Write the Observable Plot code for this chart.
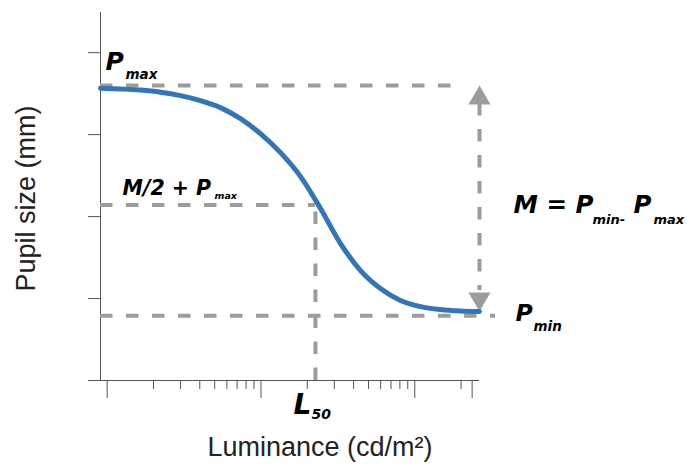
<!DOCTYPE html>
<html>
<head>
<meta charset="utf-8">
<script src="https://cdn.jsdelivr.net/npm/d3@7"></script>
<script src="https://cdn.jsdelivr.net/npm/@observablehq/plot@0.6"></script>
<style>
  html, body { margin: 0; padding: 0; background: #fff; }
  svg { display: block; }
</style>
</head>
<body>
<div id="chart"></div>
<script>
// Curve (luminance in cd/m², pupil size in mm units of the drawing)
const luminance = [0.905, 1.22, 1.65, 2.22, 3.0, 4.04, 5.45, 7.36, 9.92, 13.4, 18.1, 24.4, 32.9, 44.4, 59.8, 80.7, 109, 147, 198, 263.5];
const pupilSize = [3.567, 3.557, 3.543, 3.518, 3.476, 3.415, 3.329, 3.195, 3.012, 2.780, 2.488, 2.098, 1.671, 1.341, 1.122, 0.976, 0.902, 0.866, 0.848, 0.841];

// Reference levels
const Pmax = 3.6;
const Pmin = 0.79;
const halfLevel = 2.14;   // M/2 + Pmax
const L50 = 22.6;

// Axis ticks
const xMajorTicks = [1, 10, 100, 236];
const xMinorTicks = [2, 3, 4, 5, 6, 7, 8, 9, 20, 30, 40, 50, 60, 70, 80, 90, 200];
const yTicks = [0, 1, 2, 3, 4];
const xDomain = [0.905, 263.5];
const yDomain = [0, 4.49];

// Labels
const xLabel = "Luminance (cd/m²)";
const yLabel = "Pupil size (mm)";

const curve = luminance.map((L, i) => ({L, P: pupilSize[i]}));
const xStart = xDomain[0], xEnd = xDomain[1];
const pEnd = pupilSize[pupilSize.length - 1];

const gray = "#9c9c9c";
const dash = "12.5,13.5";
const axisColor = "#555";
const mathFont = "'DejaVu Sans', sans-serif";
const bi = {fontFamily: mathFont, fontWeight: "bold", fontStyle: "italic", fill: "#000", textAnchor: "start", lineAnchor: "bottom"};

function label(x, y, text, size, dx, dy) {
  return Plot.text([{x, y}], {x: "x", y: "y", text: () => text, fontSize: size, dx, dy, ...bi});
}

const midM = (Pmax + Pmin) / 2;

const chart = Plot.plot({
  width: 687,
  height: 468,
  marginLeft: 100,
  marginRight: 208,
  marginTop: 12,
  marginBottom: 88,
  style: {fontFamily: "'Liberation Sans', Arial, sans-serif", background: "#fff"},
  x: {type: "log", domain: xDomain, axis: null},
  y: {domain: yDomain, axis: null},
  marks: [
    // axes
    Plot.ruleX([xStart], {y1: yDomain[0], y2: yDomain[1], stroke: axisColor, strokeWidth: 1}),
    Plot.ruleY([0], {x1: xStart, x2: xEnd, stroke: axisColor, strokeWidth: 1}),
    Plot.axisY({ticks: yTicks, tickSize: 12, tickFormat: () => "", label: null, stroke: axisColor}),
    Plot.axisX({ticks: xMajorTicks, tickSize: 18, tickFormat: () => "", label: null, stroke: axisColor}),
    Plot.axisX({ticks: xMinorTicks, tickSize: 9, tickFormat: () => "", label: null, stroke: axisColor}),

    // dashed reference lines
    Plot.ruleY([Pmax], {x1: xStart, x2: xEnd, insetRight: 22, stroke: gray, strokeWidth: 4, strokeDasharray: dash}),
    Plot.ruleY([halfLevel], {x1: xStart, x2: L50, stroke: gray, strokeWidth: 4, strokeDasharray: dash}),
    Plot.ruleX([L50], {y1: 0, y2: halfLevel, stroke: gray, strokeWidth: 4, strokeDasharray: dash}),
    Plot.ruleY([Pmin], {x1: xStart, x2: xEnd, insetRight: -16, stroke: gray, strokeWidth: 4, strokeDasharray: dash}),

    // double arrow M
    Plot.ruleX([xEnd], {y1: Pmax, y2: pEnd, insetTop: 18, insetBottom: 21, stroke: gray, strokeWidth: 4, strokeDasharray: dash}),
    Plot.dot([{x: xEnd, y: Pmax}], {x: "x", y: "y", symbol: "triangle", r: 8.2, dy: 12.7, fill: gray, stroke: "none"}),
    Plot.dot([{x: xEnd, y: pEnd}], {x: "x", y: "y", symbol: "triangle", r: 8.2, rotate: 180, dy: -12.7, fill: gray, stroke: "none"}),

    // curve
    Plot.line(curve, {x: "L", y: "P", stroke: "#3474b9", strokeWidth: 5, curve: "monotone-x"}),

    // math labels
    label(xStart, Pmax, "P", 25, 5, -15.5),
    label(xStart, Pmax, "max", 13.5, 25, -6.5),
    label(xStart, halfLevel, "M/2 + P", 20.5, 22, -10),
    label(xStart, halfLevel, "max", 9.5, 114, -6),
    label(xEnd, midM, "M = P", 24.5, 34, 12.7),
    label(xEnd, midM, "min-", 13, 113, 23),
    label(xEnd, midM, "P", 24.5, 154, 12.7),
    label(xEnd, midM, "max", 13, 174, 23),
    label(xEnd, Pmin, "P", 23.5, 36, 4.8),
    label(xEnd, Pmin, "min", 13.5, 54, 14.8),
    label(L50, 0, "L", 28, -22, 33),
    label(L50, 0, "50", 14, -4, 38),

    // axis titles
    Plot.text([xLabel], {frameAnchor: "bottom", text: d => d, dx: 30, dy: 75, fontSize: 27, fill: "#222", textAnchor: "middle", lineAnchor: "bottom"}),
    Plot.text([yLabel], {frameAnchor: "left", text: d => d, rotate: -90, dx: -66, dy: 2, fontSize: 27, fill: "#222", textAnchor: "middle", lineAnchor: "bottom"})
  ]
});

document.getElementById("chart").appendChild(chart);
</script>
</body>
</html>
